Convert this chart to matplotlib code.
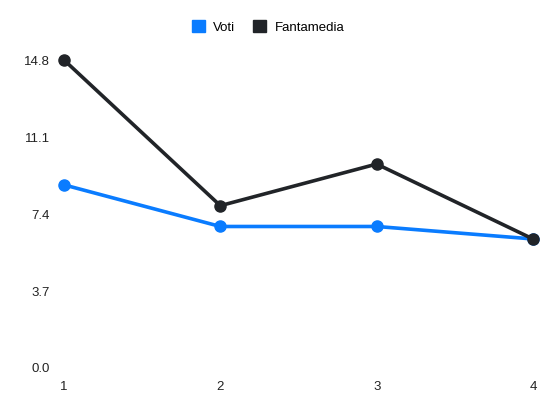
import matplotlib
matplotlib.use("Agg")
import matplotlib.pyplot as plt
from matplotlib.patches import Patch

giornate = [1, 2, 3, 4]
voti = [8.8, 6.8, 6.8, 6.2]
fantamedia = [14.8, 7.8, 9.8, 6.2]
y_ticks = [0.0, 3.7, 7.4, 11.1, 14.8]

blue = "#0a7cff"
dark = "#212428"

plt.rcParams["font.family"] = ["Liberation Sans", "DejaVu Sans"]

fig = plt.figure(figsize=(5.5, 4.12), dpi=100)
ax = fig.add_axes([64 / 550, 1 - 368 / 412, (533 - 64) / 550, (368 - 60) / 412])

ax.plot(giornate, voti, color=blue, lw=2.6, marker="o", ms=8, clip_on=False, zorder=3)
ax.plot(giornate, fantamedia, color=dark, lw=2.6, marker="o", ms=8, clip_on=False, zorder=4)

ax.set_xlim(1, 4)
ax.set_ylim(0, 14.8)
ax.set_xticks(giornate)
ax.set_yticks(y_ticks)
ax.set_yticklabels([f"{v:.1f}" for v in y_ticks])
for s in ax.spines.values():
    s.set_visible(False)
ax.tick_params(axis="both", length=0, labelsize=9.5, colors="#222222")
ax.tick_params(axis="y", pad=10)
ax.tick_params(axis="x", pad=9)

handles = [Patch(color=blue, label="Voti"), Patch(color=dark, label="Fantamedia")]
fig.legend(handles=handles, loc="center", bbox_to_anchor=(0.487, 0.934), ncol=2,
           frameon=False, fontsize=9.5, handlelength=1.0, handleheight=1.0,
           handletextpad=0.6, columnspacing=1.4)

fig.savefig("out.png", dpi=100)
